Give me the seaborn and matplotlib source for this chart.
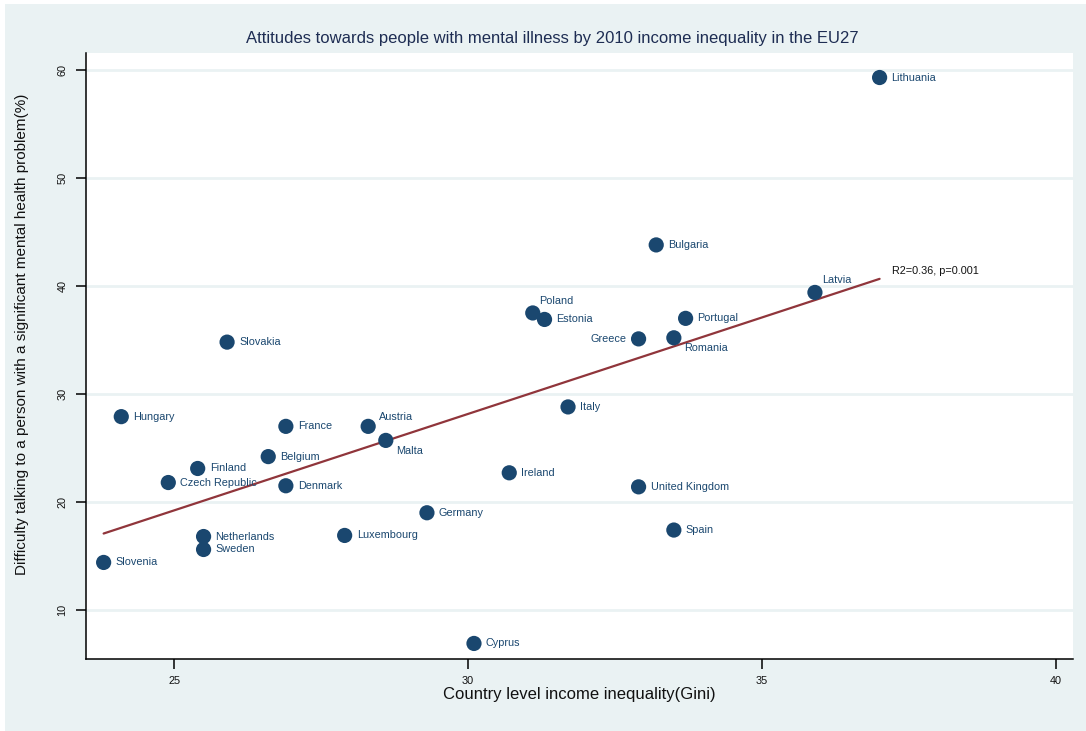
import matplotlib
matplotlib.use("Agg")
import matplotlib.pyplot as plt
from matplotlib.patches import Rectangle
import seaborn as sns
import pandas as pd

# Gini coefficient (2010) and share reporting difficulty talking to a person
# with a significant mental health problem, by EU27 member state
countries = [
    "Lithuania", "Bulgaria", "Latvia", "Poland", "Estonia", "Portugal",
    "Greece", "Romania", "Slovakia", "Italy", "Hungary", "France",
    "Austria", "Malta", "Belgium", "Finland", "Czech Republic", "Denmark",
    "Ireland", "United Kingdom", "Germany", "Netherlands", "Sweden",
    "Luxembourg", "Spain", "Slovenia", "Cyprus",
]
gini = [
    37.0, 33.2, 35.9, 31.1, 31.3, 33.7,
    32.9, 33.5, 25.9, 31.7, 24.1, 26.9,
    28.3, 28.6, 26.6, 25.4, 24.9, 26.9,
    30.7, 32.9, 29.3, 25.5, 25.5,
    27.9, 33.5, 23.8, 30.1,
]
difficulty = [
    59.3, 43.8, 39.4, 37.5, 36.9, 37.0,
    35.1, 35.2, 34.8, 28.8, 27.9, 27.0,
    27.0, 25.7, 24.2, 23.1, 21.8, 21.5,
    22.7, 21.4, 19.0, 16.8, 15.6,
    16.9, 17.4, 14.4, 6.9,
]
# Label placement for countries whose names sit off the default right side
label_offsets = {
    "Poland": (6, 12, "left"),
    "Latvia": (7, 12, "left"),
    "Austria": (11, 9, "left"),
    "Malta": (10, -11, "left"),
    "Romania": (10, -10, "left"),
    "Greece": (-12, 0, "right"),
}
fit_note = "R2=0.36, p=0.001"

df = pd.DataFrame({"country": countries, "gini": gini, "difficulty": difficulty})

BG = "#eaf2f3"
NAVY = "#1a476f"
MAROON = "#90353b"

sns.set_style("white")
plt.rcParams["font.family"] = ["Liberation Sans", "DejaVu Sans"]

fig = plt.figure(figsize=(10.86, 7.31), dpi=100, facecolor="white")
fig.patches.append(Rectangle((5 / 1086, 0), 1, 1 - 4 / 731, transform=fig.transFigure,
                             facecolor=BG, edgecolor="none", zorder=-10))
ax = fig.add_axes([86 / 1086, 1 - 659 / 731, (1073 - 86) / 1086, (659 - 53) / 731])
ax.set_facecolor("white")

sns.regplot(data=df, x="gini", y="difficulty", ax=ax, ci=None, scatter=False,
            truncate=True, line_kws={"color": MAROON, "lw": 1.6, "zorder": 2})
sns.scatterplot(data=df, x="gini", y="difficulty", ax=ax, s=120, color=NAVY,
                edgecolor="none", zorder=3)

for c, xv, yv in zip(countries, gini, difficulty):
    dx, dy, ha = label_offsets.get(c, (12, 0, "left"))
    ax.annotate(c, (xv, yv), xytext=(dx * 0.72, dy * 0.72), textcoords="offset points",
                ha=ha, va="center", fontsize=7.8, color=NAVY, zorder=4)

ax.annotate(fit_note, (gini[0], 41.4), xytext=(9, 0), textcoords="offset points",
            ha="left", va="center", fontsize=7.8, color="#111111")

ax.set_xlim(23.5, 40.29)
ax.set_ylim(5.46, 61.57)
ax.set_xticks([25, 30, 35, 40])
ax.set_yticks([10, 20, 30, 40, 50, 60])
ax.yaxis.grid(True, color=BG, lw=2)
ax.xaxis.grid(False)
ax.set_axisbelow(True)

for side in ("top", "right"):
    ax.spines[side].set_visible(False)
for side in ("left", "bottom"):
    ax.spines[side].set_color("black")
    ax.spines[side].set_linewidth(1.1)

ax.tick_params(axis="both", which="major", direction="out", length=7.5, width=1.1,
               color="black", labelsize=7.8, labelcolor="#111111",
               bottom=True, left=True, top=False, right=False)
ax.tick_params(axis="x", pad=4.5)
ax.tick_params(axis="y", pad=6)
plt.setp(ax.get_yticklabels(), rotation=90, va="center")

ax.set_xlabel("Country level income inequality(Gini)", fontsize=12, color="#111111")
ax.set_ylabel("Difficulty talking to a person with a significant mental health problem(%)",
              fontsize=11, color="#111111")
ax.xaxis.set_label_coords(0.5, -0.047)
ax.yaxis.set_label_coords(-0.058, 0.535)

fig.text(552 / 1086, 1 - 39 / 731,
         "Attitudes towards people with mental illness by 2010 income inequality in the EU27",
         ha="center", va="center", fontsize=12, color="#1e2d53")

fig.savefig("out.png", dpi=100, facecolor=fig.get_facecolor())
